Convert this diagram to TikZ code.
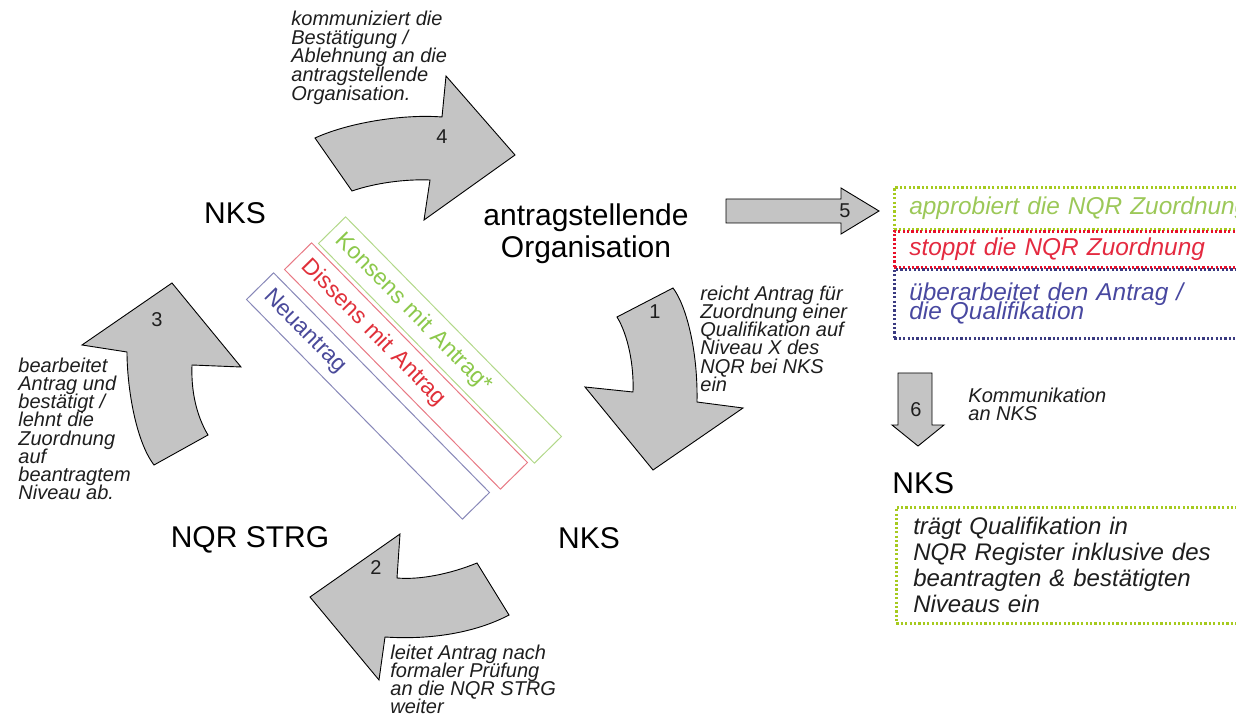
\documentclass[tikz,border=0pt]{standalone}
\usepackage{fontspec}
\setmainfont{Liberation Sans}
\definecolor{agray}{HTML}{C4C4C4}
\definecolor{txt}{HTML}{1E1E1E}
\definecolor{kgreen}{HTML}{8CC84B}
\definecolor{kgreenline}{HTML}{B2D88A}
\definecolor{dred}{HTML}{E0303A}
\definecolor{dredline}{HTML}{E87A85}
\definecolor{nblue}{HTML}{4A4A9A}
\definecolor{nblueline}{HTML}{8888B8}
\definecolor{dotgreen}{HTML}{A6CA1E}
\definecolor{dotred}{HTML}{E8102A}
\definecolor{dotblue}{HTML}{3A3A80}
\definecolor{apgreen}{HTML}{9CC858}
\definecolor{stred}{HTML}{E42A40}
\definecolor{ubblue}{HTML}{4848A0}
\newcommand{\tightls}{\lineskiplimit=-20pt\relax}
\begin{document}
\begin{tikzpicture}[x=0.5pt,y=-0.5pt,
  blockarrow/.style={fill=agray,draw=black,line width=0.45pt,line join=miter},
  note/.style={font={\fontsize{10}{9.1}\selectfont\tightls\itshape}, align=left, inner sep=0pt, anchor=north west, text=txt},
  big/.style={font=\fontsize{15}{16}\selectfont, inner sep=0pt, text=black},
  num/.style={font=\fontsize{10}{10}\selectfont, inner sep=0pt, text=txt},
  tilted/.style={rotate=-45.5, minimum width=154pt, minimum height=19pt, text width=144pt, inner xsep=5pt, inner ysep=0pt, align=left, font=\fontsize{11.5}{12}\selectfont, line width=0.5pt},
  dotbox/.style={dash pattern=on 1.1pt off 1.1pt, line width=1.3pt, anchor=north west, align=left, inner xsep=7.5pt, inner ysep=0pt, minimum width=185pt, text width=170pt},
  boxtxt/.style={font={\fontsize{12.2}{9.5}\selectfont\tightls\itshape}}
]
\useasboundingbox (0,0) rectangle (1236,716);
\clip (0,0) rectangle (1236,716);

% block arrows
\draw[blockarrow] (617,317) -- (673,288) .. controls (686,305) and (698,350) .. (697,402) -- (743,408) -- (653,470) -- (585,387) -- (633,392) .. controls (634,365) and (628,335) .. cycle;
\draw[blockarrow] (477,563) -- (509,615) .. controls (475,633) and (430,640) .. (385,637) -- (379,680) -- (310,597) -- (400,534) -- (397,578) .. controls (420,580) and (450,574) .. cycle;
\draw[blockarrow] (154,465) -- (208,435) .. controls (196,415) and (191,390) .. (192,365) -- (241,367) -- (172,283) -- (82,345) -- (127,352) .. controls (127,385) and (135,440) .. cycle;
\draw[blockarrow] (315,138) -- (352,191) .. controls (375,183) and (405,179) .. (430,180) -- (424,220) -- (515,155) -- (446,76) -- (442,117) .. controls (405,114) and (350,122) .. cycle;
\draw[blockarrow] (726,199) -- (841,199) -- (841,188) -- (879,211) -- (841,234) -- (841,223) -- (726,223) -- cycle;
\draw[blockarrow] (898,373) -- (932,373) -- (932,425) -- (944,425) -- (918,446) -- (892,425) -- (898,425) -- cycle;

% numbers
\node[num] (n1) at (655,312) {1};
\node[num] (n2) at (376,568) {2};
\node[num] (n3) at (157,320) {3};
\node[num] (n4) at (442,137) {4};
\node[num] (n5) at (845,211) {5};
\node[num] (n6) at (916,410) {6};

% main actors
\node[big] (nksTop) at (235,213) {NKS};
\node[big, align=center] (org) at (586,234) {antragstellende\\Organisation};
\node[big] (strg) at (250,540) {NQR STRG};
\node[big] (nksBot) at (589,538) {NKS};
\node[big, anchor=west] (nksRight) at (892,483) {NKS};

% notes
\node[note, font={\fontsize{10}{9.4}\selectfont\tightls\itshape}] (t4) at (291,10.5) {kommuniziert die\\Bestätigung /\\Ablehnung an die\\antragstellende\\Organisation.};
\node[note] (t1) at (700,285.5) {reicht Antrag für\\Zuordnung einer\\Qualifikation auf\\Niveau X des\\NQR bei NKS\\ein};
\node[note] (t3) at (18,357.5) {bearbeitet\\Antrag und\\bestätigt /\\lehnt die\\Zuordnung\\auf\\beantragtem\\Niveau ab.};
\node[note] (t2) at (390,644.5) {leitet Antrag nach\\formaler Prüfung\\an die NQR STRG\\weiter};
\node[note] (t6) at (968,387.5) {Kommunikation\\an NKS};

% tilted boxes
\node[tilted, draw=kgreenline, text=kgreen] (konsens) at (440,340) {Konsens mit Antrag*};
\node[tilted, draw=dredline, text=dred] (dissens) at (406,366) {Dissens mit Antrag};
\node[tilted, draw=nblueline, text=nblue] (neu) at (368,396) {Neuantrag};

% dotted outcome boxes
\node[dotbox, draw=dotgreen, text=apgreen, minimum height=21pt, boxtxt] (appr) at (893,186) {approbiert die NQR Zuordnung};
\node[dotbox, draw=dotred, text=stred, minimum height=18pt, boxtxt] (stop) at (893,230) {stoppt die NQR Zuordnung};
\node[dotbox, draw=dotblue, text=ubblue, minimum height=34.5pt, boxtxt] (ueber) at (893,268) {überarbeitet den Antrag /\\die Qualifikation};
\node[dotbox, draw=dotgreen, text=txt, minimum height=58pt, inner xsep=8.5pt, text width=168pt, font={\fontsize{12}{13}\selectfont\tightls\itshape}] (reg) at (895,506) {trägt Qualifikation in\\NQR Register inklusive des\\beantragten \& bestätigten\\Niveaus ein};
\end{tikzpicture}
\end{document}
